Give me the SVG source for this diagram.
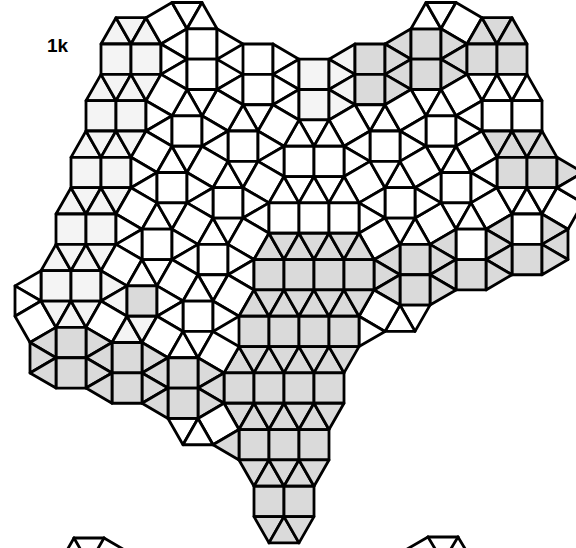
<svg xmlns="http://www.w3.org/2000/svg" width="576" height="548" viewBox="0 0 576 548">
<style>
polygon{fill:#fff;stroke:#000;stroke-width:2.8;stroke-linejoin:round}
.g{fill:#dadada}
.l{fill:#f4f4f4}
line{stroke:#000;stroke-width:2.8;stroke-linecap:round}
text{font-family:"Liberation Sans",Arial,sans-serif;font-weight:bold;font-size:19px;fill:#000}
</style>
<rect width="576" height="548" fill="#fff"/>
<text x="47" y="52">1k</text>
<g id="tiling" transform="matrix(1 0 0 1.012 0 -0.53)">
<g id="band-left">
<polygon class="l" points="101,44 131,44 116,18"/>
<polygon class="l" points="116,18 131,44 146,18"/>
<polygon class="l" points="131,44 161,44 146,18"/>
<polygon class="l" points="101,44 131,44 131,74 101,74"/>
<polygon class="l" points="131,44 161,44 161,74 131,74"/>
<polygon class="l" points="101,74 86,100 116,100"/>
<polygon class="l" points="101,74 131,74 116,100"/>
<polygon class="l" points="131,74 116,100 146,100"/>
<polygon class="l" points="131,74 161,74 146,100"/>
<polygon class="l" points="86,100 116,100 116,130 86,130"/>
<polygon class="l" points="116,100 146,100 146,130 116,130"/>
<polygon class="l" points="86,130 71,156 101,156"/>
<polygon class="l" points="86,130 116,130 101,156"/>
<polygon class="l" points="116,130 101,156 131,156"/>
<polygon class="l" points="116,130 146,130 131,156"/>
<polygon class="l" points="71,156 101,156 101,186 71,186"/>
<polygon class="l" points="101,156 131,156 131,186 101,186"/>
<polygon class="l" points="71,186 56,212 86,212"/>
<polygon class="l" points="71,186 101,186 86,212"/>
<polygon class="l" points="101,186 86,212 116,212"/>
<polygon class="l" points="101,186 131,186 116,212"/>
<polygon class="l" points="56,212 86,212 86,242 56,242"/>
<polygon class="l" points="86,212 116,212 116,242 86,242"/>
<polygon class="l" points="56,242 41,268 71,268"/>
<polygon class="l" points="56,242 86,242 71,268"/>
<polygon class="l" points="86,242 71,268 101,268"/>
<polygon class="l" points="86,242 116,242 101,268"/>
<polygon class="l" points="41,268 71,268 71,298 41,298"/>
<polygon class="l" points="71,268 101,268 101,298 71,298"/>
</g>
<g id="top">
<polygon points="146,18 172,3 187,29 161,44"/>
<polygon points="172,3 202,3 187,29"/>
<polygon points="202,3 187,29 217,29"/>
<polygon points="161,44 187,29 187,59"/>
<polygon points="161,44 187,59 161,74"/>
<polygon points="161,74 187,59 187,89"/>
<polygon points="187,29 217,29 217,59 187,59"/>
<polygon points="187,59 217,59 217,89 187,89"/>
<polygon points="217,29 243,44 217,59"/>
<polygon points="217,59 243,74 217,89"/>
<polygon points="217,89 243,74 243,104"/>
<polygon points="243,44 273,44 273,74 243,74"/>
<polygon points="243,74 273,74 273,104 243,104"/>
<polygon points="273,44 299,59 273,74"/>
<polygon points="273,74 299,59 299,89"/>
<polygon points="273,74 299,89 273,104"/>
<polygon points="273,104 299,89 299,119"/>
<polygon class="l" points="299,59 329,59 329,89 299,89"/>
<polygon class="l" points="299,89 329,89 329,119 299,119"/>
<polygon class="l" points="329,59 355,44 355,74"/>
<polygon class="l" points="329,59 355,74 329,89"/>
<polygon class="l" points="329,89 355,74 355,104"/>
<polygon class="l" points="329,89 355,104 329,119"/>
<polygon class="g" points="355,44 385,44 385,74 355,74"/>
<polygon class="g" points="355,74 385,74 385,104 355,104"/>
<polygon class="g" points="385,44 411,29 411,59"/>
<polygon class="g" points="385,44 411,59 385,74"/>
<polygon class="g" points="385,74 411,59 411,89"/>
<polygon class="g" points="385,74 411,89 385,104"/>
<polygon class="g" points="411,29 441,29 441,59 411,59"/>
<polygon class="g" points="411,59 441,59 441,89 411,89"/>
<polygon points="411,29 426,3 441,29"/>
<polygon points="426,3 456,3 441,29"/>
<polygon points="441,29 456,3 482,18 467,44"/>
<polygon class="g" points="441,29 467,44 441,59"/>
<polygon class="g" points="441,59 467,44 467,74"/>
<polygon class="g" points="441,59 467,74 441,89"/>
<polygon class="g" points="467,44 482,18 497,44"/>
<polygon class="g" points="482,18 512,18 497,44"/>
<polygon class="g" points="497,44 512,18 527,44"/>
<polygon class="g" points="467,44 497,44 497,74 467,74"/>
<polygon class="g" points="497,44 527,44 527,74 497,74"/>
<polygon points="467,74 497,74 482,100"/>
<polygon points="482,100 497,74 512,100"/>
<polygon points="497,74 527,74 512,100"/>
<polygon points="512,100 527,74 542,100"/>
<polygon points="482,100 512,100 512,130 482,130"/>
<polygon points="512,100 542,100 542,130 512,130"/>
</g>
<g id="right">
<polygon class="g" points="482,130 512,130 497,156"/>
<polygon class="g" points="497,156 512,130 527,156"/>
<polygon class="g" points="512,130 542,130 527,156"/>
<polygon class="g" points="527,156 542,130 557,156"/>
<polygon class="g" points="497,156 527,156 527,186 497,186"/>
<polygon class="g" points="527,156 557,156 557,186 527,186"/>
<polygon class="g" points="557,156 583,171 557,186"/>
<polygon points="441,89 467,74 482,100 456,115"/>
<polygon points="411,89 441,89 426,115"/>
<polygon points="441,89 456,115 426,115"/>
<polygon points="426,115 456,115 456,145 426,145"/>
<polygon points="456,115 482,100 482,130"/>
<polygon points="456,115 482,130 456,145"/>
<polygon points="482,130 497,156 471,171 456,145"/>
<polygon points="426,145 456,145 441,171"/>
<polygon points="456,145 441,171 471,171"/>
<polygon points="441,171 471,171 471,201 441,201"/>
<polygon points="471,171 497,156 497,186"/>
<polygon points="471,171 497,186 471,201"/>
<polygon points="471,201 497,186 512,212 486,227"/>
<polygon points="497,186 527,186 512,212"/>
<polygon points="512,212 527,186 542,212"/>
<polygon points="527,186 557,186 542,212"/>
<polygon points="542,212 557,186 583,201 568,227"/>
<polygon points="557,186 583,171 583,201"/>
<polygon points="512,212 542,212 542,242 512,242"/>
<polygon class="g" points="512,242 542,242 542,272 512,272"/>
<polygon class="g" points="542,212 568,227 542,242"/>
<polygon class="g" points="542,242 568,227 568,257"/>
<polygon class="g" points="542,242 568,257 542,272"/>
<polygon class="g" points="512,212 486,227 512,242"/>
<polygon class="g" points="486,227 512,242 486,257"/>
<polygon class="g" points="512,242 486,257 512,272"/>
<polygon class="g" points="486,257 512,272 486,287"/>
<polygon points="441,201 471,201 456,227"/>
<polygon points="471,201 456,227 486,227"/>
<polygon points="456,227 486,227 486,257 456,257"/>
<polygon class="g" points="456,257 486,257 486,287 456,287"/>
<polygon points="415,216 441,201 456,227 430,242"/>
<polygon class="g" points="430,242 456,227 456,257"/>
<polygon class="g" points="430,242 456,257 430,272"/>
<polygon class="g" points="430,272 456,257 456,287"/>
<polygon class="g" points="430,272 456,287 430,302"/>
<polygon points="415,216 400,242 430,242"/>
<polygon class="g" points="400,242 430,242 430,272 400,272"/>
<polygon class="g" points="400,272 430,272 430,302 400,302"/>
<polygon class="g" points="400,242 374,257 400,272"/>
<polygon class="g" points="374,257 400,272 374,287"/>
<polygon class="g" points="400,272 374,287 400,302"/>
<polygon points="400,302 430,302 415,328"/>
<polygon points="400,302 385,328 415,328"/>
<polygon points="374,287 400,302 385,328 359,313"/>
<polygon points="359,313 385,328 359,343"/>
</g>
<g id="middle">
<polygon points="385,104 370,130 400,130"/>
<polygon points="355,104 370,130 385,104"/>
<polygon points="329,119 355,104 370,130 344,145"/>
<polygon points="385,104 411,89 426,115 400,130"/>
<polygon points="400,130 426,145 426,115"/>
<polygon points="400,130 400,160 426,145"/>
<polygon points="370,130 400,130 400,160 370,160"/>
<polygon points="344,145 370,160 370,130"/>
<polygon points="344,145 344,175 370,160"/>
<polygon points="344,175 370,160 385,186 359,201"/>
<polygon points="385,186 415,186 400,160"/>
<polygon points="385,186 400,160 370,160"/>
<polygon points="400,160 415,186 441,171 426,145"/>
<polygon points="415,186 441,171 441,201"/>
<polygon points="415,186 441,201 415,216"/>
<polygon points="385,186 415,186 415,216 385,216"/>
<polygon points="359,201 385,216 385,186"/>
<polygon points="359,201 359,231 385,216"/>
<polygon points="385,216 415,216 400,242"/>
<polygon points="359,231 374,257 400,242 385,216"/>
<polygon points="299,119 329,119 314,145"/>
<polygon points="284,145 299,119 314,145"/>
<polygon points="314,145 329,119 344,145"/>
<polygon points="284,145 314,145 314,175 284,175"/>
<polygon points="314,145 344,145 344,175 314,175"/>
<polygon points="243,104 273,104 258,130"/>
<polygon points="228,130 243,104 258,130"/>
<polygon points="273,104 299,119 284,145 258,130"/>
<polygon points="228,130 258,130 258,160 228,160"/>
<polygon points="258,130 284,145 258,160"/>
<polygon points="258,160 284,145 284,175"/>
<polygon points="217,89 243,104 228,130 202,115"/>
<polygon points="187,89 217,89 202,115"/>
<polygon points="172,115 187,89 202,115"/>
<polygon points="161,74 187,89 172,115 146,100"/>
<polygon points="146,100 172,115 146,130"/>
<polygon points="146,130 172,115 172,145"/>
<polygon points="172,115 202,115 202,145 172,145"/>
<polygon points="202,115 228,130 202,145"/>
<polygon points="202,145 228,130 228,160"/>
<polygon points="146,130 172,145 157,171 131,156"/>
<polygon points="172,145 157,171 187,171"/>
<polygon points="172,145 187,171 202,145"/>
<polygon points="202,145 228,160 213,186 187,171"/>
<polygon points="228,160 213,186 243,186"/>
<polygon points="228,160 243,186 258,160"/>
<polygon points="258,160 284,175 269,201 243,186"/>
<polygon points="131,156 157,171 131,186"/>
<polygon points="131,186 157,171 157,201"/>
<polygon points="157,171 187,171 187,201 157,201"/>
<polygon points="187,171 213,186 187,201"/>
<polygon points="213,186 243,186 243,216 213,216"/>
<polygon points="243,186 269,201 243,216"/>
<polygon points="243,216 269,201 269,231"/>
<polygon points="131,186 157,201 142,227 116,212"/>
<polygon points="157,201 142,227 172,227"/>
<polygon points="157,201 172,227 187,201"/>
<polygon points="187,201 213,186 213,216"/>
<polygon points="187,201 213,216 198,242 172,227"/>
<polygon points="198,242 213,216 228,242"/>
<polygon points="213,216 243,216 228,242"/>
<polygon points="228,242 243,216 269,231 254,257"/>
<polygon points="142,227 172,227 172,257 142,257"/>
<polygon points="116,212 142,227 116,242"/>
<polygon points="116,242 142,227 142,257"/>
<polygon points="172,227 172,257 198,242"/>
<polygon points="198,242 228,242 228,272 198,272"/>
<polygon points="228,242 254,257 228,272"/>
<polygon points="228,272 254,257 254,287"/>
<polygon points="116,242 142,257 127,283 101,268"/>
<polygon points="142,257 127,283 157,283"/>
<polygon points="142,257 157,283 172,257"/>
<polygon points="172,257 198,242 198,272"/>
<polygon points="172,257 198,272 183,298 157,283"/>
<polygon class="l" points="101,268 127,283 101,298"/>
<polygon class="l" points="101,298 127,283 127,313"/>
<polygon class="g" points="127,283 157,283 157,313 127,313"/>
<polygon points="157,283 183,298 157,313"/>
<polygon points="198,272 228,272 213,298"/>
<polygon points="183,298 198,272 213,298"/>
<polygon points="183,298 213,298 213,328 183,328"/>
<polygon points="157,313 183,298 183,328"/>
<polygon points="213,298 228,272 254,287 239,313"/>
<polygon points="213,298 239,313 213,328"/>
</g>
<g id="center-column">
<polygon points="284,175 269,201 299,201"/>
<polygon points="284,175 314,175 299,201"/>
<polygon points="314,175 299,201 329,201"/>
<polygon points="314,175 344,175 329,201"/>
<polygon points="344,175 329,201 359,201"/>
<polygon points="269,201 299,201 299,231 269,231"/>
<polygon points="299,201 329,201 329,231 299,231"/>
<polygon points="329,201 359,201 359,231 329,231"/>
<polygon class="g" points="269,231 254,257 284,257"/>
<polygon class="g" points="269,231 299,231 284,257"/>
<polygon class="g" points="299,231 284,257 314,257"/>
<polygon class="g" points="299,231 329,231 314,257"/>
<polygon class="g" points="329,231 314,257 344,257"/>
<polygon class="g" points="329,231 359,231 344,257"/>
<polygon class="g" points="359,231 344,257 374,257"/>
<polygon class="g" points="254,257 284,257 284,287 254,287"/>
<polygon class="g" points="284,257 314,257 314,287 284,287"/>
<polygon class="g" points="314,257 344,257 344,287 314,287"/>
<polygon class="g" points="344,257 374,257 374,287 344,287"/>
<polygon class="g" points="254,287 239,313 269,313"/>
<polygon class="g" points="254,287 284,287 269,313"/>
<polygon class="g" points="284,287 269,313 299,313"/>
<polygon class="g" points="284,287 314,287 299,313"/>
<polygon class="g" points="314,287 299,313 329,313"/>
<polygon class="g" points="314,287 344,287 329,313"/>
<polygon class="g" points="344,287 329,313 359,313"/>
<polygon class="g" points="344,287 374,287 359,313"/>
<polygon class="g" points="239,313 269,313 269,343 239,343"/>
<polygon class="g" points="269,313 299,313 299,343 269,343"/>
<polygon class="g" points="299,313 329,313 329,343 299,343"/>
<polygon class="g" points="329,313 359,313 359,343 329,343"/>
<polygon class="g" points="239,343 224,369 254,369"/>
<polygon class="g" points="239,343 269,343 254,369"/>
<polygon class="g" points="269,343 254,369 284,369"/>
<polygon class="g" points="269,343 299,343 284,369"/>
<polygon class="g" points="299,343 284,369 314,369"/>
<polygon class="g" points="299,343 329,343 314,369"/>
<polygon class="g" points="329,343 314,369 344,369"/>
<polygon class="g" points="329,343 359,343 344,369"/>
<polygon class="g" points="224,369 254,369 254,399 224,399"/>
<polygon class="g" points="254,369 284,369 284,399 254,399"/>
<polygon class="g" points="284,369 314,369 314,399 284,399"/>
<polygon class="g" points="314,369 344,369 344,399 314,399"/>
<polygon class="g" points="224,399 254,399 239,425"/>
<polygon class="g" points="239,425 254,399 269,425"/>
<polygon class="g" points="254,399 284,399 269,425"/>
<polygon class="g" points="269,425 284,399 299,425"/>
<polygon class="g" points="284,399 314,399 299,425"/>
<polygon class="g" points="299,425 314,399 329,425"/>
<polygon class="g" points="314,399 344,399 329,425"/>
<polygon class="g" points="239,425 269,425 269,455 239,455"/>
<polygon class="g" points="269,425 299,425 299,455 269,455"/>
<polygon class="g" points="299,425 329,425 329,455 299,455"/>
<polygon class="g" points="239,455 269,455 254,481"/>
<polygon class="g" points="254,481 269,455 284,481"/>
<polygon class="g" points="269,455 299,455 284,481"/>
<polygon class="g" points="284,481 299,455 314,481"/>
<polygon class="g" points="299,455 329,455 314,481"/>
<polygon class="g" points="254,481 284,481 284,511 254,511"/>
<polygon class="g" points="284,481 314,481 314,511 284,511"/>
<polygon class="g" points="254,511 284,511 269,537"/>
<polygon class="g" points="269,537 284,511 299,537"/>
<polygon class="g" points="284,511 314,511 299,537"/>
</g>
<g id="lower-left">
<polygon points="41,268 15,283 41,298"/>
<polygon points="15,283 41,298 15,313"/>
<polygon points="15,313 41,298 56,324 30,339"/>
<polygon class="l" points="41,298 71,298 56,324"/>
<polygon class="l" points="56,324 71,298 86,324"/>
<polygon class="l" points="71,298 101,298 86,324"/>
<polygon points="86,324 101,298 127,313 112,339"/>
<polygon class="l" points="112,339 127,313 142,339"/>
<polygon class="l" points="127,313 157,313 142,339"/>
<polygon points="142,339 157,313 183,328 168,354"/>
<polygon points="168,354 183,328 198,354"/>
<polygon points="183,328 213,328 198,354"/>
<polygon points="198,354 213,328 239,343 224,369"/>
<polygon class="g" points="198,354 224,369 198,384"/>
<polygon class="g" points="198,384 224,369 224,399"/>
<polygon class="g" points="198,384 224,399 198,414"/>
<polygon points="198,414 224,399 239,425 213,440"/>
<polygon class="g" points="213,440 239,425 239,455"/>
<polygon points="168,414 198,414 183,440"/>
<polygon points="183,440 198,414 213,440"/>
<polygon class="g" points="168,354 198,354 198,384 168,384"/>
<polygon class="g" points="168,384 198,384 198,414 168,414"/>
<polygon class="g" points="142,339 168,354 142,369"/>
<polygon class="g" points="142,369 168,354 168,384"/>
<polygon class="g" points="142,369 168,384 142,399"/>
<polygon class="g" points="142,399 168,384 168,414"/>
<polygon class="g" points="112,339 142,339 142,369 112,369"/>
<polygon class="g" points="112,369 142,369 142,399 112,399"/>
<polygon class="g" points="86,324 112,339 86,354"/>
<polygon class="g" points="86,354 112,339 112,369"/>
<polygon class="g" points="86,354 112,369 86,384"/>
<polygon class="g" points="86,384 112,369 112,399"/>
<polygon class="g" points="56,324 86,324 86,354 56,354"/>
<polygon class="g" points="56,354 86,354 86,384 56,384"/>
<polygon class="g" points="30,339 56,324 56,354"/>
<polygon class="g" points="30,339 56,354 30,369"/>
<polygon class="g" points="30,369 56,354 56,384"/>
</g>
</g>
<g id="next-figure-fragments">
<line x1="74" y1="538" x2="104" y2="538"/>
<line x1="74" y1="538" x2="66" y2="552"/>
<line x1="74" y1="538" x2="82" y2="552"/>
<line x1="104" y1="538" x2="96" y2="552"/>
<line x1="104" y1="538" x2="128" y2="552"/>
<line x1="428" y1="537" x2="458" y2="537"/>
<line x1="428" y1="537" x2="402" y2="552"/>
<line x1="428" y1="537" x2="437" y2="552"/>
<line x1="458" y1="537" x2="449" y2="552"/>
<line x1="458" y1="537" x2="467" y2="552"/>
</g>
</svg>
